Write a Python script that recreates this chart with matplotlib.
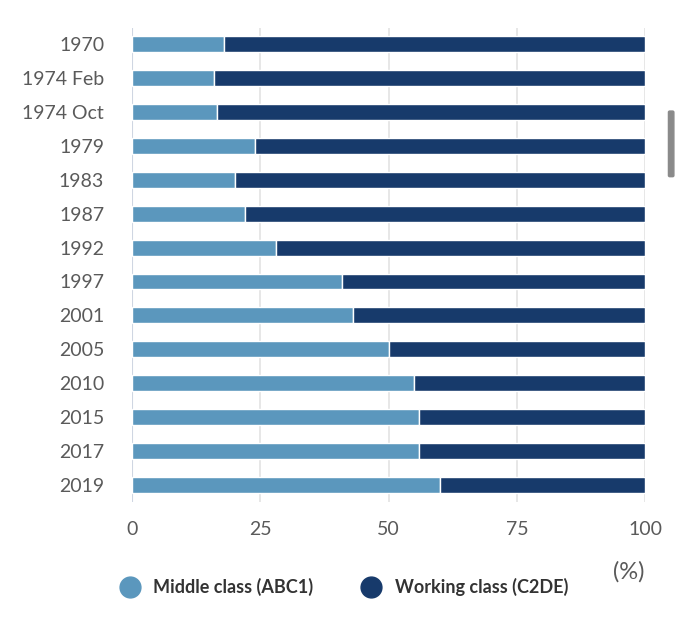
import matplotlib.pyplot as plt
from matplotlib.lines import Line2D
from matplotlib.patches import FancyBboxPatch

elections = ["1970", "1974 Feb", "1974 Oct", "1979", "1983", "1987", "1992",
             "1997", "2001", "2005", "2010", "2015", "2017", "2019"]
middle = [18, 16, 16.5, 24, 20, 22, 28, 41, 43, 50, 55, 56, 56, 60]
working = [100 - m for m in middle]

c_mid = "#5b97bd"
c_work = "#173a6b"

plt.rcParams['font.family'] = ['Lato', 'DejaVu Sans']

fig = plt.figure(figsize=(6.8, 6.31), dpi=100)
ax = fig.add_axes([0.194, 0.2044, 0.755, 0.7512])

y = range(len(elections))
ax.barh(y, middle, height=0.47, color=c_mid, edgecolor="white", linewidth=1, zorder=3)
ax.barh(y, working, left=middle, height=0.47, color=c_work, edgecolor="white", linewidth=1, zorder=3)

ax.set_ylim(len(elections) - 0.5, -0.47)
ax.set_xlim(0, 100)
ax.set_yticks(list(y))
ax.set_yticklabels(elections, fontsize=14, color="#5a5a5a")
ax.set_xticks([0, 25, 50, 75, 100])
ax.set_xticklabels(["0", "25", "50", "75", "100"], fontsize=14, color="#5a5a5a")
ax.tick_params(axis="both", length=0)
ax.tick_params(axis="y", pad=20)
ax.tick_params(axis="x", pad=14)

for s in ax.spines.values():
    s.set_visible(False)
for v in [25, 50, 75, 100]:
    ax.axvline(v, color="#e3e3e3", linewidth=1.2, zorder=1)
ax.axvline(0, color="#cfd6e2", linewidth=1.5, zorder=1)

handles = [Line2D([], [], marker="o", linestyle="", markersize=15, color=c_mid),
           Line2D([], [], marker="o", linestyle="", markersize=15, color=c_work)]
fig.legend(handles, ["Middle class (ABC1)", "Working class (C2DE)"],
           loc="center", bbox_to_anchor=(0.5, 0.07), ncol=2, frameon=False,
           prop={"size": 13, "weight": "bold"}, handletextpad=0.3, columnspacing=2.2,
           labelcolor="#333333")

fig.text(0.924, 0.093, "(%)", fontsize=17, color="#5a5a5a", ha="center", va="center")

# scrollbar
fig.patches.append(FancyBboxPatch((0.985, 0.722), 0.004, 0.1, boxstyle="round,pad=0.002",
                                  transform=fig.transFigure, color="#8a8a8a", figure=fig))

fig.savefig("out.png", dpi=100, facecolor="white")
